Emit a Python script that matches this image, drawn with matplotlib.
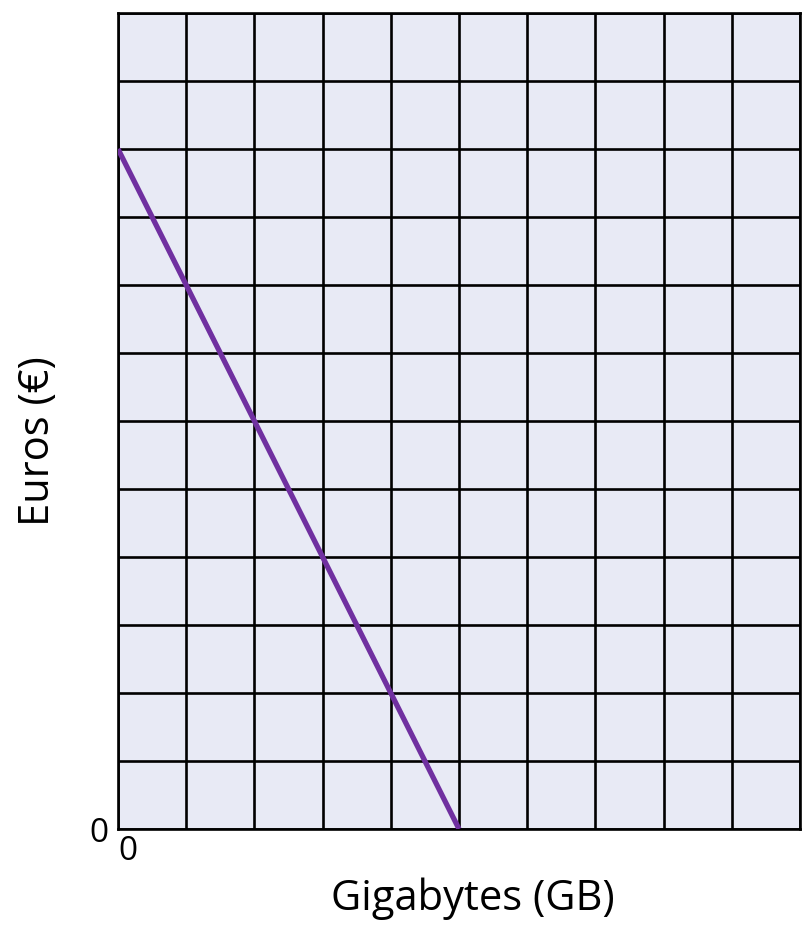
import matplotlib.pyplot as plt
import numpy as np

plt.rcParams['font.family'] = ['Open Sans', 'DejaVu Sans']

# data in grid units
gigabytes = [0, 5]
euros = [10, 0]
n_cols = 10
n_rows = 12

fig = plt.figure(figsize=(8.1, 9.31), dpi=100)
ax = fig.add_axes([118 / 810, 1 - 829 / 931, 682 / 810, 816 / 931])
ax.set_facecolor('#e8eaf5')

ax.plot(gigabytes, euros, color='#7030a0', lw=3.8, solid_capstyle='butt', zorder=3)

ax.set_xlim(0, n_cols)
ax.set_ylim(0, n_rows)
ax.set_xticks(np.arange(0, n_cols + 1))
ax.set_yticks(np.arange(0, n_rows + 1))
ax.grid(True, color='black', lw=1.9)
ax.set_axisbelow(False)
ax.tick_params(length=0, labelsize=24)
ax.tick_params(axis='y', pad=7)
ax.tick_params(axis='x', pad=4)
ax.set_xticklabels(['0'] + [''] * n_cols)
ax.set_yticklabels(['0'] + [''] * n_rows)
for lbl in ax.get_xticklabels():
    lbl.set_ha('left')
for s in ax.spines.values():
    s.set_linewidth(1.9)

ax.set_xlabel('Gigabytes (GB)', fontsize=30)
ax.xaxis.set_label_coords(0.52, -0.06, transform=ax.transAxes)
ax.xaxis.label.set_va('top')
ax.set_ylabel('Euros (€)', fontsize=30)
ax.yaxis.set_label_coords(-0.086, 0.475)

fig.savefig('out.png', dpi=100)
